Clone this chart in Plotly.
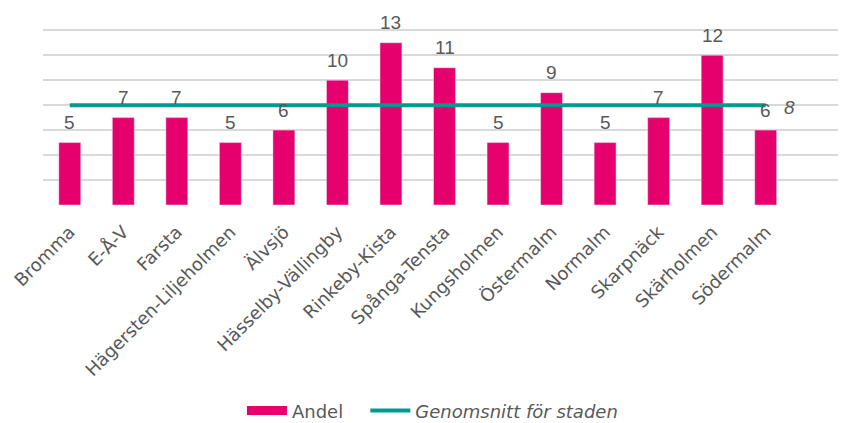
import plotly.graph_objects as go

categories = ["Bromma", "E-Å-V", "Farsta", "Hägersten-Liljeholmen", "Älvsjö",
              "Hässelby-Vällingby", "Rinkeby-Kista", "Spånga-Tensta", "Kungsholmen",
              "Östermalm", "Normalm", "Skarpnäck", "Skärholmen", "Södermalm"]
andel = [5, 7, 7, 5, 6, 10, 13, 11, 5, 9, 5, 7, 12, 6]
genomsnitt = [8] * len(categories)
y_ticks = [0, 2, 4, 6, 8, 10, 12, 14]

PINK = "#E5006D"
TEAL = "#009A8E"
GREY = "#595959"
FONT = "DejaVu Sans"
NUMFONT = "Liberation Sans"

xs = list(range(len(categories)))

fig = go.Figure()
fig.add_trace(go.Bar(x=xs, y=andel, name="Andel", marker_color=PINK, width=0.41,
                     showlegend=False))
fig.add_trace(go.Scatter(x=[None], y=[None], name="Andel&nbsp;&nbsp;&nbsp;", mode="lines",
                         line=dict(color=PINK, width=9)))
fig.add_trace(go.Scatter(x=xs, y=genomsnitt, name="<i>Genomsnitt för staden</i>",
                         mode="lines", line=dict(color=TEAL, width=4)))

for x, v in zip(xs, andel):
    fig.add_annotation(x=x, y=v, text=str(v), showarrow=False, yshift=20,
                       font=dict(size=19, color=GREY, family=NUMFONT))
fig.add_annotation(x=xs[-1], y=genomsnitt[-1], text="<i>8</i>", showarrow=False,
                   xshift=24, yshift=-2, font=dict(size=19, color=GREY, family=NUMFONT))

fig.update_layout(
    width=846, height=423,
    margin=dict(l=35, r=8, t=15.75, b=226, autoexpand=False),
    paper_bgcolor="white", plot_bgcolor="white",
    font=dict(family=FONT, color=GREY, size=18),
    showlegend=True,
    legend=dict(orientation="h", x=0.485, xanchor="center", y=-1.137, yanchor="middle",
                font=dict(size=18, color=GREY, family=FONT), itemwidth=40),
)
fig.update_xaxes(tickmode="array", tickvals=xs, ticktext=categories, tickangle=-45,
                 range=[-0.5, 14.5], showgrid=False, showline=False, zeroline=False,
                 ticks="", ticklabelstandoff=12, automargin=False,
                 tickfont=dict(size=18, color=GREY, family=FONT))
fig.update_yaxes(range=[0, 14.5], tickvals=y_ticks, showticklabels=False,
                 showgrid=True, gridcolor="#D9D9D9", gridwidth=1.5, zeroline=False,
                 showline=False, automargin=False)

fig.write_html("out.html")
